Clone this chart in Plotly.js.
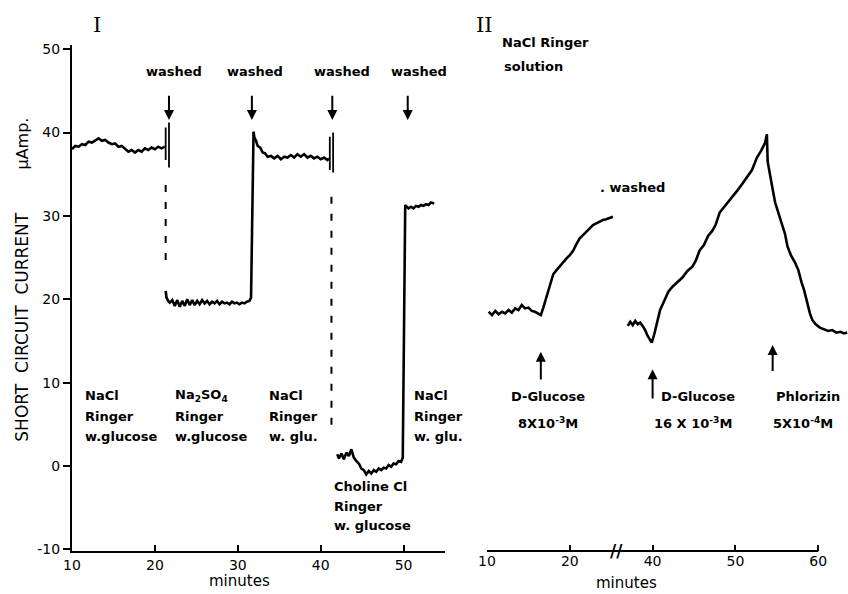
<!DOCTYPE html>
<html>
<head>
<meta charset="utf-8">
<script src="https://cdn.plot.ly/plotly-3.0.1.min.js"></script>
<style>html,body{margin:0;padding:0;background:#fff;}#chart{width:848px;height:594px;}</style>
</head>
<body>
<div id="chart"></div>
<script>
// ---------- Panel I data (minutes, µAmp) ----------
const nacl1X = [10, 10.4, 10.8, 11.2, 11.6, 12, 12.4, 12.8, 13.2, 13.6, 14, 14.4, 14.8, 15.2, 15.6, 16, 16.4, 16.8, 17.2, 17.6, 18, 18.4, 18.8, 19.2, 19.6, 20, 20.4, 20.8, 21.2];
const nacl1Y = [38.0, 38.4, 38.3, 38.6, 38.5, 38.9, 38.8, 39.1, 39.3, 39.0, 39.1, 38.8, 38.6, 38.7, 38.3, 38.4, 38.0, 37.7, 37.9, 37.6, 37.9, 37.7, 38.1, 37.9, 38.2, 38.0, 38.3, 38.1, 38.3];

const na2so4X = [21.3, 21.4, 21.6, 21.8, 22.1, 22.4, 22.7, 23.0, 23.3, 23.6, 23.9, 24.2, 24.5, 24.8, 25.1, 25.4, 25.7, 26.0, 26.3, 26.6, 26.9, 27.2, 27.5, 27.8, 28.1, 28.4, 28.7, 29.0, 29.3, 29.6, 29.9, 30.2, 30.5, 30.8, 31.1, 31.4, 31.6, 31.9];
const na2so4Y = [21.0, 20.2, 19.8, 19.6, 19.9, 19.2, 19.9, 19.1, 19.8, 19.2, 20.0, 19.3, 19.9, 19.3, 19.8, 19.4, 19.9, 19.5, 19.8, 19.4, 19.7, 19.5, 19.8, 19.4, 19.7, 19.5, 19.6, 19.4, 19.7, 19.5, 19.6, 19.4, 19.6, 19.5, 19.7, 19.8, 20.2, 40.1];

const nacl2X = [31.9, 32.0, 32.2, 32.4, 32.7, 33.0, 33.3, 33.6, 34.0, 34.4, 34.8, 35.2, 35.6, 36.0, 36.4, 36.8, 37.2, 37.6, 38.0, 38.4, 38.8, 39.2, 39.6, 40.0, 40.4, 40.8, 41.0];
const nacl2Y = [40.1, 39.4, 39.0, 38.4, 38.2, 37.6, 37.5, 37.1, 37.2, 36.9, 37.2, 36.8, 37.1, 37.0, 37.3, 37.0, 37.4, 37.1, 37.4, 37.0, 37.2, 36.9, 37.1, 36.8, 37.0, 36.7, 36.9];

const cholineX = [42.0, 42.2, 42.5, 42.8, 43.1, 43.4, 43.7, 44.0, 44.3, 44.6, 44.9, 45.2, 45.5, 45.8, 46.1, 46.4, 46.7, 47.0, 47.3, 47.6, 47.9, 48.2, 48.5, 48.8, 49.1, 49.4, 49.7, 49.9, 50.2, 50.6, 50.9, 51.2, 51.5, 51.8, 52.1, 52.4, 52.7, 53.0, 53.3, 53.7];
const cholineY = [1.4, 0.9, 1.5, 0.8, 1.6, 1.2, 2.0, 1.0, 0.6, 0.3, -0.3, -0.5, -1.0, -0.6, -0.9, -0.5, -0.7, -0.3, -0.5, -0.2, -0.3, 0.1, -0.1, 0.3, 0.2, 0.6, 0.5, 1.0, 31.3, 30.9, 31.1, 30.9, 31.2, 31.1, 31.3, 31.2, 31.4, 31.3, 31.6, 31.5];

// washing artefacts: short vertical strokes [x, yTop, yBottom]
const washMarkX   = [21.3, 21.7, 41.1, 41.5];
const washMarkTop = [40.6, 41.2, 39.5, 40.0];
const washMarkBot = [36.7, 35.8, 35.5, 35.2];
// dashed connectors at solution change
const dashX   = [21.3, 41.3];
const dashTop = [33.7, 32.3];
const dashBot = [24.7, 4.7];

// ---------- Panel II data (actual minutes, µAmp) ----------
const glu1T = [10.2, 10.6, 11.0, 11.4, 11.8, 12.2, 12.6, 13.0, 13.4, 13.8, 14.2, 14.6, 15.0, 15.4, 15.8, 16.2, 16.5, 16.8, 17.2, 17.6, 18.0, 18.4, 18.8, 19.2, 19.6, 20.0, 20.4, 20.8, 21.2, 21.6, 22.0, 22.4, 22.8, 23.2, 23.6, 24.0, 24.4, 24.8, 25.2];
const glu1Y = [18.5, 18.1, 18.6, 18.2, 18.5, 18.3, 18.7, 18.4, 18.9, 18.7, 19.3, 18.9, 19.0, 18.6, 18.5, 18.3, 18.1, 19.0, 20.3, 21.5, 23.0, 23.5, 24.0, 24.4, 24.9, 25.3, 25.8, 26.6, 27.3, 27.7, 28.1, 28.6, 28.9, 29.1, 29.3, 29.5, 29.6, 29.8, 29.9];

const glu2T = [37.0, 37.3, 37.6, 37.9, 38.2, 38.5, 38.8, 39.1, 39.4, 39.7, 39.9, 40.2, 40.5, 40.9, 41.4, 41.9, 42.4, 43.0, 43.6, 44.2, 44.8, 45.2, 45.7, 46.2, 46.7, 47.2, 47.6, 48.1, 48.6, 49.1, 49.7, 50.2, 50.8, 51.4, 52.0, 52.6, 53.1, 53.6, 53.8, 53.9, 54.2, 54.5, 54.8, 55.2, 55.6, 56.0, 56.3, 56.7, 57.2, 57.6, 58.0, 58.3, 58.6, 59.0, 59.3, 59.7, 60.2, 60.7, 61.2, 61.7, 62.2, 62.7, 63.1, 63.5];
const glu2Y = [16.8, 17.3, 16.9, 17.4, 17.0, 17.2, 16.8, 16.3, 15.6, 15.0, 14.8, 15.8, 17.0, 18.7, 19.8, 20.9, 21.5, 22.1, 22.6, 23.4, 23.9, 24.6, 25.9, 26.5, 27.6, 28.2, 28.9, 30.4, 31.0, 31.6, 32.3, 33.0, 33.8, 34.6, 35.5, 37.0, 37.8, 38.8, 39.8, 36.5, 34.6, 33.2, 31.6, 30.4, 29.2, 27.8, 26.3, 25.3, 24.4, 23.5, 22.0, 21.1, 19.9, 18.3, 17.5, 17.0, 16.6, 16.4, 16.2, 16.3, 16.0, 16.1, 15.9, 16.0];

// ---------- tick labels ----------
const ticks1Vals = [10, 20, 30, 40, 50];
const ticks1Text = ['10', '20', '30', '40', '50'];
const yTickVals  = [-10, 0, 10, 20, 30, 40, 50];
const yTickText  = ['-10', '0', '10', '20', '30', '40', '50'];
const ticks2Vals = [10, 20, 40, 50, 60];   // actual minutes (broken axis)
const ticks2Text = ['10', '20', '40', '50', '60'];
const breakAt = 30;   // minutes 25.7..35.7 are cut out of panel II
const gap = 10;
function disp(t) { return t > breakAt ? t - gap : t; }

const FONT = 'DejaVu Sans';
const BLACK = '#000';
const lineStyle = {color: BLACK, width: 2.6};
const Y0 = -10.2, Y1 = 50.5;
function py(v) { return (v - Y0) / (Y1 - Y0); }   // data y -> paper y

const traces = [];
function addLine(x, y, xa, style) {
  traces.push({x: x, y: y, type: 'scatter', mode: 'lines', xaxis: xa, yaxis: 'y',
               line: Object.assign({}, lineStyle, style || {}), hoverinfo: 'skip'});
}
addLine(nacl1X, nacl1Y, 'x');
addLine(na2so4X, na2so4Y, 'x');
addLine(nacl2X, nacl2Y, 'x');
addLine(cholineX, cholineY, 'x');
for (let i = 0; i < washMarkX.length; i++) {
  addLine([washMarkX[i], washMarkX[i]], [washMarkTop[i], washMarkBot[i]], 'x', {width: 1.8});
}
for (let i = 0; i < dashX.length; i++) {
  addLine([dashX[i], dashX[i]], [dashTop[i], dashBot[i]], 'x', {width: 2, dash: '7px,10px'});
}
addLine(glu1T.map(disp), glu1Y, 'x2');
addLine(glu2T.map(disp), glu2Y, 'x2');

// ---------- annotations ----------
const ann = [];
function txt(xref, x, y, text, opts) {
  ann.push(Object.assign({xref: xref, yref: 'paper', x: x, y: py(y), text: text, showarrow: false,
    xanchor: 'left', yanchor: 'middle',
    font: {family: FONT, size: 13, color: BLACK, weight: 700}}, opts || {}));
}
function arrow(xref, x, yTip, yTail) {
  ann.push({xref: xref, yref: 'y', axref: xref, ayref: 'y', x: x, y: yTip, ax: x, ay: yTail,
    text: '', showarrow: true, arrowhead: 2, arrowsize: 1, arrowwidth: 2, arrowcolor: BLACK});
}
// Panel I
txt('x', 13.0, 52.9, 'I', {xanchor: 'center', font: {family: 'DejaVu Serif', size: 21, color: BLACK}});
const washedX = [22.3, 32.1, 42.6, 51.9];
const arrowX = [21.7, 31.7, 41.4, 50.5];
for (let i = 0; i < 4; i++) {
  txt('x', washedX[i], 47.3, 'washed', {xanchor: 'center'});
  arrow('x', arrowX[i], 41.5, 44.6);
}
const lineY = [8.5, 5.9, 3.5];
function block(xref, x, lines, ys, anchor) {
  lines.forEach((l, i) => txt(xref, x, ys[i], l, anchor ? {xanchor: anchor} : {}));
}
block('x', 11.3, ['NaCl', 'Ringer', 'w.glucose'], lineY);
block('x', 22.2, ['Na<sub>2</sub>SO<sub>4</sub>', 'Ringer', 'w.glucose'], lineY);
block('x', 33.5, ['NaCl', 'Ringer', 'w. glu.'], lineY);
block('x', 51.0, ['NaCl', 'Ringer', 'w. glu.'], lineY);
block('x', 41.4, ['Choline Cl', 'Ringer', 'w. glucose'], [-2.5, -4.9, -7.1]);

// Panel II
txt('paper', 0.532, 52.9, 'II', {xanchor: 'center', font: {family: 'DejaVu Serif', size: 21, color: BLACK}});
txt('x2', 11.6, 50.8, 'NaCl Ringer');
txt('x2', 11.8, 47.9, 'solution');
txt('x2', 23.4, 33.4, '. washed');
arrow('x2', disp(16.5), 13.7, 10.2);
arrow('x2', disp(40.0), 11.6, 7.9);
arrow('x2', disp(54.5), 14.5, 11.2);
txt('x2', disp(17.4), 8.3, 'D-Glucose', {xanchor: 'center'});
txt('x2', disp(17.4), 5.2, '8X10<sup>-3</sup>M', {xanchor: 'center'});
txt('x2', disp(45.5), 8.3, 'D-Glucose', {xanchor: 'center'});
txt('x2', disp(44.9), 5.2, '16 X 10<sup>-3</sup>M', {xanchor: 'center'});
txt('x2', disp(58.8), 8.3, 'Phlorizin', {xanchor: 'center'});
txt('x2', disp(58.2), 5.2, '5X10<sup>-4</sup>M', {xanchor: 'center'});
ann.push({xref: 'x2', yref: 'paper', x: 25.7, y: 0, text: '//', showarrow: false,
  xanchor: 'center', yanchor: 'middle', font: {family: FONT, size: 17, color: BLACK, weight: 700}});

// axis titles
ann.push({xref: 'x', yref: 'paper', x: 30.2, y: -0.059, text: 'minutes', showarrow: false,
  xanchor: 'center', yanchor: 'middle', font: {family: FONT, size: 15, color: BLACK}});
ann.push({xref: 'x2', yref: 'paper', x: 26.9, y: -0.064, text: 'minutes', showarrow: false,
  xanchor: 'center', yanchor: 'middle', font: {family: FONT, size: 15, color: BLACK}});
ann.push({xref: 'paper', yref: 'paper', x: -0.064, y: 0.442, text: 'SHORT  CIRCUIT  CURRENT',
  showarrow: false, textangle: -90, xanchor: 'center', yanchor: 'middle',
  font: {family: FONT, size: 17, color: BLACK}});
ann.push({xref: 'paper', yref: 'paper', x: -0.064, y: 0.806, text: 'μAmp.',
  showarrow: false, textangle: -90, xanchor: 'center', yanchor: 'middle',
  font: {family: FONT, size: 16, color: BLACK}});

const tickFont = {family: FONT, size: 14, color: BLACK};
const layout = {
  width: 848, height: 594,
  margin: {l: 72, r: 0, t: 45, b: 43, pad: 0},
  paper_bgcolor: '#fff', plot_bgcolor: '#fff',
  showlegend: false, hovermode: false,
  xaxis: {domain: [0, 0.4807], range: [10, 55], showgrid: false, zeroline: false,
    showline: true, linecolor: BLACK, linewidth: 2, ticks: 'inside', ticklen: 6, tickwidth: 2,
    tickcolor: BLACK, tickvals: ticks1Vals, ticktext: ticks1Text, tickfont: tickFont, anchor: 'y'},
  yaxis: {range: [Y0, Y1], showgrid: false, zeroline: false,
    showline: true, linecolor: BLACK, linewidth: 2, ticks: 'outside', ticklen: 7, tickwidth: 2,
    tickcolor: BLACK, tickvals: yTickVals, ticktext: yTickText, tickfont: tickFont, anchor: 'x'},
  xaxis2: {domain: [0.5348, 1], range: [10, 53.6], showgrid: false, zeroline: false,
    showline: false, ticks: 'inside', ticklen: 6, tickwidth: 2, tickcolor: BLACK,
    tickvals: ticks2Vals.map(disp), ticktext: ticks2Text, tickfont: tickFont, anchor: 'y'},
  shapes: [{type: 'line', xref: 'x2', yref: 'paper', x0: 10, x1: 50, y0: 0, y1: 0,
    line: {color: BLACK, width: 2}}],
  annotations: ann
};
Plotly.newPlot('chart', traces, layout, {staticPlot: true, displayModeBar: false});
</script>
</body>
</html>
